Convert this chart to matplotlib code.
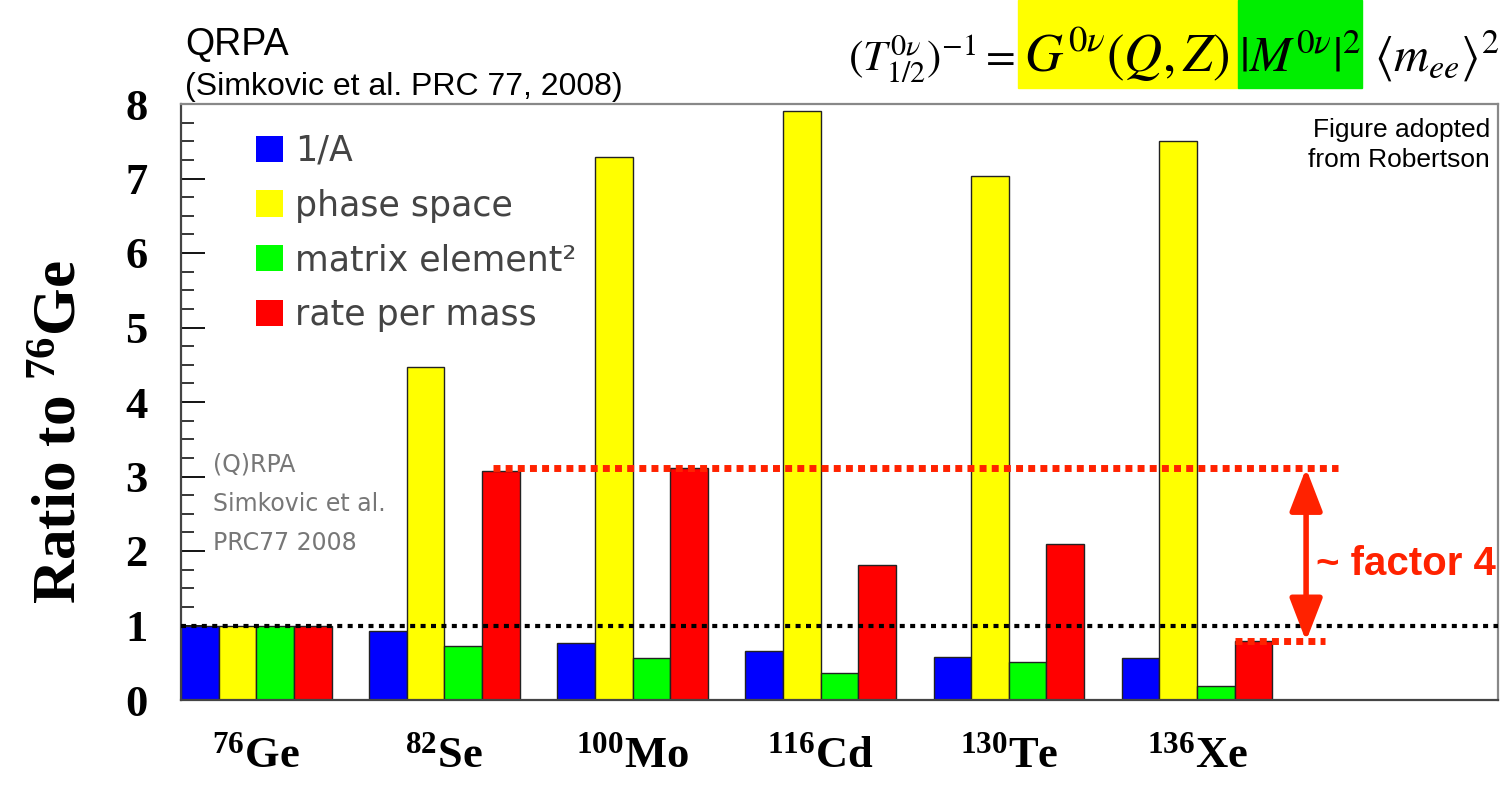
import matplotlib.pyplot as plt
from matplotlib.patches import Patch, Rectangle
import numpy as np

plt.rcParams['mathtext.fontset'] = 'custom'
plt.rcParams['mathtext.rm'] = 'Liberation Serif:bold'
plt.rcParams['mathtext.it'] = 'Liberation Serif:italic:bold'
plt.rcParams['mathtext.bf'] = 'Liberation Serif:bold'

# Ratios of each isotope to 76Ge
isotopes = [r'$^{76}$Ge', r'$^{82}$Se', r'$^{100}$Mo', r'$^{116}$Cd', r'$^{130}$Te', r'$^{136}$Xe']
inv_mass = [1.00, 0.93, 0.76, 0.66, 0.58, 0.56]
phase_space = [1.00, 4.47, 7.29, 7.91, 7.04, 7.51]
matrix_sq = [1.00, 0.73, 0.56, 0.36, 0.51, 0.19]
rate_per_mass = [1.00, 3.08, 3.11, 1.81, 2.09, 0.79]

series = [inv_mass, phase_space, matrix_sq, rate_per_mass]
series_labels = ['1/A', 'phase space', 'matrix element²', 'rate per mass']
series_colors = ['#0000ff', '#ffff00', '#00ff00', '#ff0000']

SERIF = 'Liberation Serif'
SANS = 'Liberation Sans'
RED = '#ff2200'

fig = plt.figure(figsize=(15.12, 7.92), dpi=100)
ax = fig.add_axes([181 / 1512, 92 / 792, 1317 / 1512, 596 / 792])

# four bars per isotope, one empty slot between groups
n_series = len(series)
slot = n_series + 1
groups = np.arange(len(isotopes))
for j, (vals, col) in enumerate(zip(series, series_colors)):
    ax.bar(groups * slot + j + 0.5, vals, width=1.0, color=col,
           edgecolor='#222222', linewidth=1.0, zorder=2)

ax.set_xlim(0, 35)
ax.set_ylim(0, 8.0)

# reference level of 76Ge
ax.axhline(1.0, color='black', lw=3, linestyle=(0, (1.2, 1.3)), zorder=3)

# spread of rate per mass between best and worst isotope
top = max(rate_per_mass[1:])
bottom = rate_per_mass[-1]
x_arrow = 29.9
ax.plot([8.3, 30.75], [top, top], color=RED, lw=5, linestyle=(0, (1.0, 0.75)),
        zorder=3)
ax.plot([(len(isotopes) - 1) * slot + 3, 30.4], [bottom, bottom], color=RED, lw=5,
        linestyle=(0, (1.0, 0.75)), zorder=3)
ax.annotate('', xy=(x_arrow, top), xytext=(x_arrow, bottom),
            arrowprops=dict(arrowstyle='<|-|>,head_length=1.3,head_width=0.5',
                            color=RED, lw=4, mutation_scale=20,
                            shrinkA=0, shrinkB=0), zorder=4)
ax.text(30.15, 1.82, '~ factor 4', color=RED, fontsize=29, fontweight='bold',
        family=SANS, va='center', ha='left')

# axes styling
ax.set_yticks(np.arange(0, 9), labels=[str(i) for i in range(9)],
              fontsize=32, fontfamily=SERIF, fontweight='bold')
ax.set_yticks(np.arange(0, 8.01, 0.25), minor=True)
ax.tick_params(axis='y', which='major', direction='in', length=17, width=1.3,
               pad=24, colors='black')
ax.tick_params(axis='y', which='minor', direction='in', length=9, width=1.1)
ax.set_xticks(groups * slot + n_series / 2, labels=isotopes,
              fontsize=32, fontfamily=SERIF, fontweight='bold')
ax.tick_params(axis='x', length=0, pad=26)
for side in ['left', 'bottom']:
    ax.spines[side].set_color('#444444')
    ax.spines[side].set_linewidth(1.6)
for side in ['top', 'right']:
    ax.spines[side].set_color('#888888')
    ax.spines[side].set_linewidth(1.6)

ax.set_ylabel(r'Ratio to $^{76}$Ge', fontsize=44, fontfamily=SERIF,
              fontweight='bold')
ax.yaxis.set_label_coords(-0.070, 0.45)

# legend
handles = [Patch(facecolor=c, edgecolor='none') for c in series_colors]
leg = ax.legend(handles, series_labels, loc='upper left',
                bbox_to_anchor=(0.057, 0.950), frameon=False, fontsize=25,
                handlelength=0.78, handleheight=0.78, handletextpad=0.35,
                labelspacing=0.6, borderaxespad=0, borderpad=0)
for t in leg.get_texts():
    t.set_color('#444444')

ax.text(0.024, 0.415, '(Q)RPA\nSimkovic et al.\nPRC77 2008', transform=ax.transAxes,
        fontsize=17, color='#777777', va='top', ha='left', linespacing=1.8)

# header text
fig.text(185 / 1512, 1 - 55 / 792, 'QRPA', fontsize=27, family=SANS,
         va='baseline')
fig.text(185 / 1512, 1 - 95 / 792, '(Simkovic et al. PRC 77, 2008)', fontsize=23,
         family=SANS, va='baseline')
fig.text(1490 / 1512, 1 - 118 / 792, 'Figure adopted\nfrom Robertson', fontsize=19,
         family=SANS, ha='right', va='top', linespacing=1.3)

# decay rate formula with highlighted factors
fig.add_artist(Rectangle((1018 / 1512, 1 - 88 / 792), 220 / 1512, 88 / 792,
                         transform=fig.transFigure, color='#ffff00', zorder=0))
fig.add_artist(Rectangle((1238 / 1512, 1 - 88 / 792), 124 / 1512, 88 / 792,
                         transform=fig.transFigure, color='#00ee00', zorder=0))
fy = 1 - 72 / 792
fig.text(1015 / 1512, fy, r'$(T_{1/2}^{0\nu})^{-1}=$', fontsize=31,
         math_fontfamily='stix', ha='right', va='baseline')
fig.text(1127 / 1512, fy, r'$G^{0\nu}(Q,Z)$', fontsize=38,
         math_fontfamily='stix', ha='center', va='baseline')
fig.text(1300 / 1512, fy, r'$|M^{0\nu}|^2$', fontsize=36,
         math_fontfamily='stix', ha='center', va='baseline')
fig.text(1374 / 1512, fy, r'$\langle m_{ee}\rangle^2$', fontsize=35,
         math_fontfamily='stix', ha='left', va='baseline')

fig.savefig('out.png', dpi=100)
